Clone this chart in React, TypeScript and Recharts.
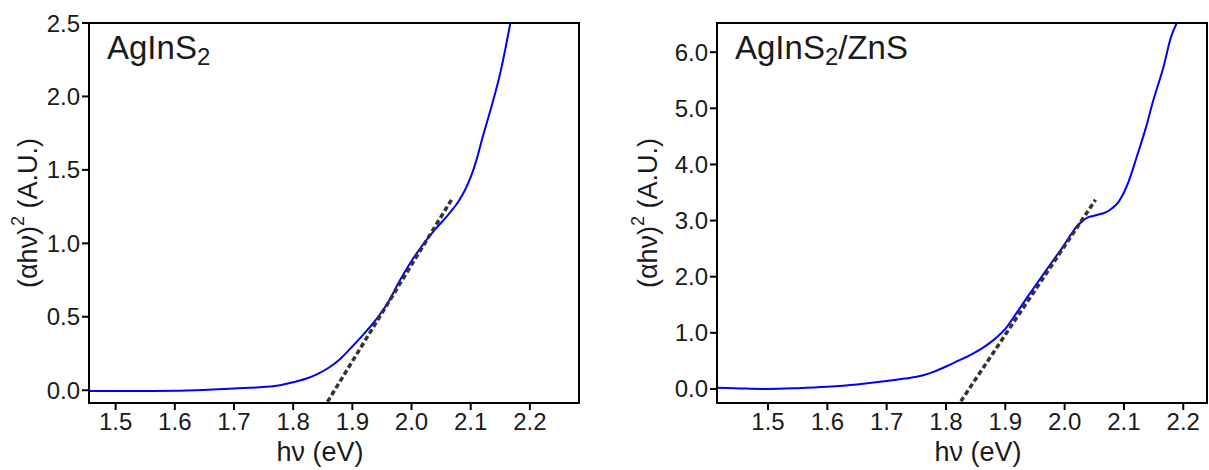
import React from 'react';
import { LineChart, Line, XAxis, YAxis, Label, ReferenceArea } from 'recharts';

// ---------- data ----------
const xTicks = [1.5, 1.6, 1.7, 1.8, 1.9, 2.0, 2.1, 2.2];
const leftYTicks = [0, 0.5, 1.0, 1.5, 2.0, 2.5];
const rightYTicks = [0, 1, 2, 3, 4, 5, 6];

const leftCurve = [
  { x: 1.455, y: -0.006 }, { x: 1.5, y: -0.006 }, { x: 1.55, y: -0.005 },
  { x: 1.6, y: -0.004 }, { x: 1.65, y: 0.002 }, { x: 1.7, y: 0.012 },
  { x: 1.75, y: 0.022 }, { x: 1.78, y: 0.036 }, { x: 1.8, y: 0.054 },
  { x: 1.82, y: 0.076 }, { x: 1.84, y: 0.108 }, { x: 1.86, y: 0.153 },
  { x: 1.88, y: 0.215 }, { x: 1.9, y: 0.298 }, { x: 1.92, y: 0.385 },
  { x: 1.94, y: 0.48 }, { x: 1.96, y: 0.595 }, { x: 1.98, y: 0.745 },
  { x: 2.0, y: 0.88 }, { x: 2.02, y: 0.995 }, { x: 2.04, y: 1.095 },
  { x: 2.06, y: 1.185 }, { x: 2.08, y: 1.29 }, { x: 2.09, y: 1.36 },
  { x: 2.1, y: 1.45 }, { x: 2.11, y: 1.57 }, { x: 2.12, y: 1.72 },
  { x: 2.135, y: 1.93 }, { x: 2.15, y: 2.16 }, { x: 2.167, y: 2.5 },
];
const leftFit = [{ x: 1.858, y: -0.079 }, { x: 2.068, y: 1.3 }];

const rightCurve = [
  { x: 1.414, y: 0.02 }, { x: 1.45, y: 0.01 }, { x: 1.5, y: 0.0 },
  { x: 1.55, y: 0.015 }, { x: 1.6, y: 0.04 }, { x: 1.65, y: 0.08 },
  { x: 1.7, y: 0.14 }, { x: 1.73, y: 0.185 }, { x: 1.76, y: 0.24 },
  { x: 1.78, y: 0.31 }, { x: 1.8, y: 0.4 }, { x: 1.82, y: 0.5 },
  { x: 1.84, y: 0.6 }, { x: 1.86, y: 0.72 }, { x: 1.88, y: 0.87 },
  { x: 1.9, y: 1.07 }, { x: 1.92, y: 1.37 }, { x: 1.94, y: 1.68 },
  { x: 1.96, y: 1.98 }, { x: 1.98, y: 2.28 }, { x: 1.995, y: 2.5 },
  { x: 2.01, y: 2.74 }, { x: 2.02, y: 2.89 }, { x: 2.03, y: 2.99 },
  { x: 2.04, y: 3.06 }, { x: 2.055, y: 3.1 }, { x: 2.07, y: 3.15 },
  { x: 2.08, y: 3.22 }, { x: 2.09, y: 3.32 }, { x: 2.1, y: 3.5 },
  { x: 2.108, y: 3.7 }, { x: 2.122, y: 4.15 }, { x: 2.136, y: 4.62 },
  { x: 2.15, y: 5.16 }, { x: 2.167, y: 5.75 }, { x: 2.179, y: 6.26 },
  { x: 2.189, y: 6.52 },
];
const rightFit = [{ x: 1.825, y: -0.22 }, { x: 2.052, y: 3.37 }];

// ---------- styles ----------
const FONT = '"Liberation Sans", Arial, sans-serif';
const TEXT = '#1a1a1a';
const tickStyle = { fill: TEXT, fontSize: 24, fontFamily: FONT };
const fmt = (v: number) => v.toFixed(1);

type PanelProps = {
  left: number;
  width: number;
  yAxisWidth: number;
  rightMargin: number;
  xDomain: [number, number];
  yDomain: [number, number];
  yTicks: number[];
  curve: { x: number; y: number }[];
  fit: { x: number; y: number }[];
  title: React.ReactNode;
  xLabelCenter: number;
  yLabelCenter: number;
};

function Panel(p: PanelProps) {
  const height = 470;
  const top = 23;
  const xAxisHeight = 67;

  const XTitle = (props: any) => {
    const vb = props.viewBox;
    return (
      <text x={p.xLabelCenter} y={vb.y + 58} textAnchor="middle" fontSize={27} fontFamily={FONT} fill={TEXT}>
        hν (eV)
      </text>
    );
  };

  const YTitle = () => {
    const cx = p.yLabelCenter;
    const cy = top + (height - top - xAxisHeight) / 2;
    return (
      <text
        x={cx}
        y={cy}
        transform={`rotate(-90 ${cx} ${cy})`}
        textAnchor="middle"
        dominantBaseline="central"
        fontSize={27}
        fontFamily={FONT}
        fill={TEXT}
      >
        (αhν)
        <tspan fontSize={18} dy={-10}>2</tspan>
        <tspan dy={10}> (A.U.)</tspan>
      </text>
    );
  };

  const Title = (props: any) => {
    const vb = props.viewBox || { x: 0, y: top };
    return (
      <text x={vb.x + 18} y={vb.y + 35.5} fontSize={33} fontFamily={FONT} fill={TEXT}>
        {p.title}
      </text>
    );
  };

  return (
    <div style={{ position: 'absolute', left: p.left, top: 0 }}>
      <LineChart
        width={p.width}
        height={height}
        margin={{ top, right: p.rightMargin, bottom: 0, left: 0 }}
      >
        <XAxis
          dataKey="x"
          type="number"
          domain={p.xDomain}
          allowDataOverflow
          ticks={xTicks}
          interval={0}
          tickFormatter={fmt}
          height={xAxisHeight}
          tick={tickStyle}
          tickSize={7}
          tickMargin={3}
          axisLine={{ stroke: '#000', strokeWidth: 2 }}
          tickLine={{ stroke: '#000', strokeWidth: 2 }}
        >
          <Label content={XTitle} />
        </XAxis>
        <YAxis
          type="number"
          domain={p.yDomain}
          allowDataOverflow
          ticks={p.yTicks}
          interval={0}
          tickFormatter={fmt}
          width={p.yAxisWidth}
          tick={tickStyle}
          tickSize={7}
          tickMargin={2}
          axisLine={{ stroke: '#000', strokeWidth: 2 }}
          tickLine={{ stroke: '#000', strokeWidth: 2 }}
        >
          <Label content={YTitle} />
        </YAxis>
        <ReferenceArea
          x1={p.xDomain[0]}
          x2={p.xDomain[1]}
          y1={p.yDomain[0]}
          y2={p.yDomain[1]}
          fill="none"
          fillOpacity={0}
          stroke="#000"
          strokeWidth={2}
          ifOverflow="visible"
          label={<Title />}
        />
        <Line
          data={p.curve}
          dataKey="y"
          type="monotone"
          stroke="#0000ff"
          strokeWidth={2}
          dot={false}
          isAnimationActive={false}
        />
        <Line
          data={p.fit}
          dataKey="y"
          type="linear"
          stroke="#333333"
          strokeWidth={3.5}
          strokeDasharray="5 3"
          dot={false}
          isAnimationActive={false}
        />
      </LineChart>
    </div>
  );
}

export default function App() {
  return (
    <div style={{ position: 'absolute', left: 0, top: 0, width: 1209, height: 470, background: '#fff' }}>
      <Panel
        left={0}
        width={600}
        yAxisWidth={89}
        rightMargin={21}
        xDomain={[1.455, 2.283]}
        yDomain={[-0.087, 2.5]}
        yTicks={leftYTicks}
        curve={leftCurve}
        fit={leftFit}
        title={<>AgInS<tspan fontSize={24} dy={6}>2</tspan></>}
        xLabelCenter={320}
        yLabelCenter={28}
      />
      <Panel
        left={609}
        width={600}
        yAxisWidth={108}
        rightMargin={2}
        xDomain={[1.414, 2.24]}
        yDomain={[-0.25, 6.52]}
        yTicks={rightYTicks}
        curve={rightCurve}
        fit={rightFit}
        title={<>AgInS<tspan fontSize={24} dy={6}>2</tspan><tspan dy={-6}>/ZnS</tspan></>}
        xLabelCenter={369}
        yLabelCenter={39}
      />
    </div>
  );
}
